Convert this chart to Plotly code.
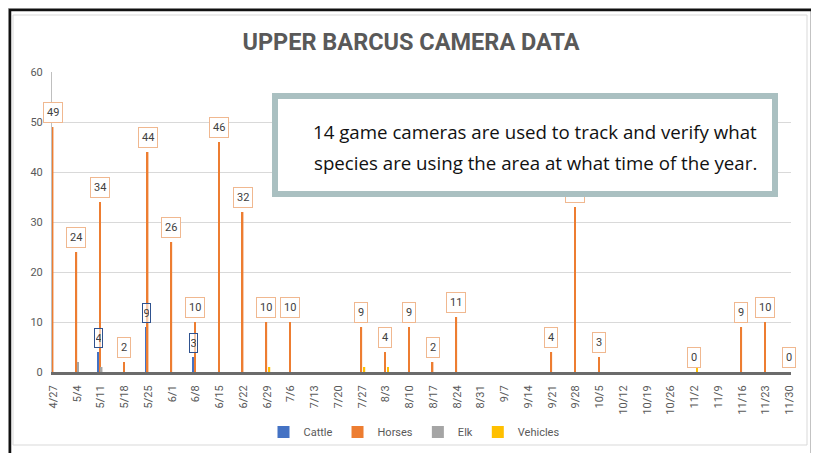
import plotly.graph_objects as go

# ---------------- data ----------------
weeks = ["4/27", "5/4", "5/11", "5/18", "5/25", "6/1", "6/8", "6/15", "6/22", "6/29",
         "7/6", "7/13", "7/20", "7/27", "8/3", "8/10", "8/17", "8/24", "8/31", "9/7",
         "9/14", "9/21", "9/28", "10/5", "10/12", "10/19", "10/26", "11/2", "11/9",
         "11/16", "11/23", "11/30"]

cattle = [None, None, 4, None, 9, None, 3, None, None, None,
          None, None, None, None, None, None, None, None, None, None,
          None, None, None, None, None, None, None, None, None,
          None, None, None]

horses = [49, 24, 34, 2, 44, 26, 10, 46, 32, 10,
          10, None, None, 9, 4, 9, 2, 11, None, None,
          None, 4, 33, 3, None, None, None, 0, None,
          9, 10, 0]

elk = [None, 2, 1, None, None, None, None, None, None, None,
       None, None, None, None, None, None, None, None, None, None,
       None, None, None, None, None, None, None, None, None,
       None, None, None]

vehicles = [None, None, None, None, None, None, None, None, None, 1,
            None, None, None, 1, 1, None, None, None, None, None,
            None, None, None, None, None, None, None, 1.4, None,
            None, None, None]

y_ticks = [0, 10, 20, 30, 40, 50, 60]

title_text = "UPPER BARCUS CAMERA DATA"
note_lines = ["14 game cameras are used to track and verify what",
              "species are using the area at what time of the year."]

# ---------------- styling ----------------
# The page body adds an 8px margin; all pixel positions below are screen pixels.
OFF = 8
W, H = 819 - OFF, 453 - OFF
L, R, T, B = 52, 791, 72, 372   # plot area in screen pixels


def px2x(px):
    return (px - L) / (R - L)


def px2y(py):
    return (B - py) / (B - T)


def cx(px):
    return (px - OFF) / W


def cy(py):
    return 1 - (py - OFF) / H


C_CATTLE = "#4472C4"
C_HORSES = "#ED7D31"
C_ELK = "#A5A5A5"
C_VEH = "#FFC000"
TXT = "#595959"
SMALL_FONT = "Roboto, Liberation Sans, sans-serif"

xs = list(range(len(weeks)))

fig = go.Figure()
fig.add_trace(go.Bar(name="Cattle", x=xs, y=cattle, marker=dict(color=C_CATTLE, line=dict(width=0))))
fig.add_trace(go.Bar(name="Horses", x=xs, y=horses, marker=dict(color=C_HORSES, line=dict(width=0))))
fig.add_trace(go.Bar(name="Elk", x=xs, y=elk, marker=dict(color=C_ELK, line=dict(width=0))))
fig.add_trace(go.Bar(name="Vehicles", x=xs, y=vehicles, marker=dict(color=C_VEH, line=dict(width=0))))

BAR_W = 0.065
off = {"Cattle": -1.5 * BAR_W, "Horses": -0.5 * BAR_W, "Elk": 0.5 * BAR_W, "Vehicles": 1.5 * BAR_W}

annotations = []
# horses data labels
for i, v in enumerate(horses):
    if v is None:
        continue
    annotations.append(dict(
        x=i + off["Horses"], y=v, xref="x", yref="y", text=str(v), showarrow=False,
        xanchor="center", yanchor="bottom", yshift=4,
        font=dict(family=SMALL_FONT, size=11, color="#404040"),
        bgcolor="white", bordercolor="#F0B890", borderwidth=1, borderpad=3))
# cattle data labels
for i, v in enumerate(cattle):
    if v is None:
        continue
    annotations.append(dict(
        x=i + off["Cattle"], y=v, xref="x", yref="y", text=str(v), showarrow=False,
        xanchor="center", yanchor="bottom", yshift=4, width=5, height=16,
        font=dict(family=SMALL_FONT, size=11, color="#404040"),
        bgcolor="rgba(255,255,255,0.6)", bordercolor="#2F528F", borderwidth=1, borderpad=1))

# text box (drawn after labels so it covers them)
BOX_L, BOX_R, BOX_T, BOX_B, BW = 272, 778, 93, 197, 6
annotations.append(dict(
    x=px2x(BOX_L), y=px2y(BOX_T), xref="paper", yref="paper", xanchor="left", yanchor="top",
    text=" ", showarrow=False, width=BOX_R - BOX_L - 2 * BW, height=BOX_B - BOX_T - 2 * BW,
    bgcolor="white", bordercolor="#AAC0C1", borderwidth=BW, borderpad=0))
for k, (line, ypx) in enumerate(zip(note_lines, [132, 162])):
    annotations.append(dict(
        x=px2x(759), y=px2y(ypx), xref="paper", yref="paper", xanchor="right", yanchor="middle",
        text=line, showarrow=False,
        font=dict(family="Open Sans, Noto Sans, sans-serif", size=18.7, color="#111111")))

shapes = [
    # shadow
    dict(type="rect", xref="paper", yref="paper", layer="below",
         x0=px2x(8), x1=px2x(819), y0=px2y(8), y1=px2y(453),
         fillcolor="#b0b0b0", line=dict(width=0)),
    # black frame
    dict(type="rect", xref="paper", yref="paper", layer="below",
         x0=px2x(10), x1=px2x(812), y0=px2y(10), y1=px2y(470),
         fillcolor="white", line=dict(color="#111111", width=2.5)),
    # inner chart border
    dict(type="rect", xref="paper", yref="paper", layer="below",
         x0=px2x(13), x1=px2x(807), y0=px2y(15), y1=px2y(445),
         fillcolor="white", line=dict(color="#D9D9D9", width=1)),
]

fig.update_layout(
    width=W, height=H,
    margin=dict(l=L - OFF, r=W - (R - OFF), t=T - OFF, b=H - (B - OFF), pad=0, autoexpand=False),
    paper_bgcolor="white", plot_bgcolor="rgba(0,0,0,0)",
    barmode="group", bargap=1 - 4 * BAR_W, bargroupgap=0,
    title=dict(text=title_text, x=cx(411), xanchor="center", y=cy(42), yanchor="middle",
               font=dict(family="Roboto, sans-serif", size=23.5, color=TXT, weight="bold")),
    showlegend=True,
    legend=dict(orientation="h", x=cx(414), xanchor="center", xref="container",
                y=cy(432), yanchor="middle", yref="container",
                font=dict(family=SMALL_FONT, size=11, color=TXT), bgcolor="rgba(0,0,0,0)",
                itemwidth=30, traceorder="normal"),
    annotations=annotations,
    shapes=shapes,
    xaxis=dict(
        range=[-0.06, len(weeks) - 1 + 0.06], tickmode="array", tickvals=xs, ticktext=weeks,
        tickangle=-90, tickfont=dict(family=SMALL_FONT, size=11, color=TXT),
        showgrid=False, zeroline=False, showline=True, linecolor="#6b6b6b", linewidth=3,
        ticks="", ticklabelstandoff=6, fixedrange=True, automargin=False),
    yaxis=dict(
        range=[0, 60], tickmode="array", tickvals=y_ticks,
        tickfont=dict(family=SMALL_FONT, size=11, color=TXT),
        showgrid=True, gridcolor="#D9D9D9", gridwidth=1, zeroline=False,
        showline=True, linecolor="#BFBFBF", linewidth=1, ticks="", ticklabelstandoff=6,
        fixedrange=True, automargin=False),
)

fig.write_html("out.html")
